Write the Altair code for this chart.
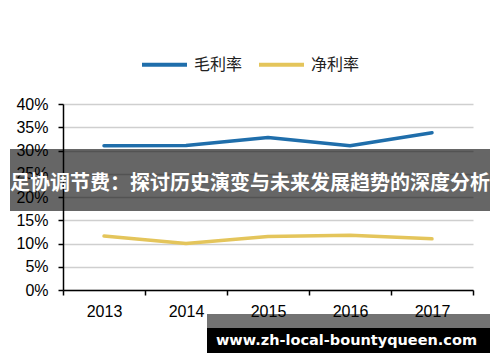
import altair as alt
import pandas as pd

years = ["2013", "2014", "2015", "2016", "2017"]
gross_margin = [0.310, 0.311, 0.328, 0.310, 0.338]
net_margin = [0.116, 0.100, 0.115, 0.118, 0.110]
series_names = ["毛利率", "净利率"]
series_colors = ["#1f6eab", "#e4c55b"]
y_ticks = [0, 0.05, 0.10, 0.15, 0.20, 0.25, 0.30, 0.35, 0.40]
banner_text = ["足协调节费：探讨历史演变与未来发展趋势的深度分析"]
footer_text = ["www.zh-local-bountyqueen.com"]

rows = []
for i, y in enumerate(years):
    rows.append({"year": y, "series": series_names[0], "value": gross_margin[i]})
    rows.append({"year": y, "series": series_names[1], "value": net_margin[i]})
df = pd.DataFrame(rows)

lines = alt.Chart(df).mark_line(strokeWidth=3.5, strokeCap="round", strokeJoin="round").encode(
    x=alt.X("year:N", sort=years, title=None,
            scale=alt.Scale(paddingInner=0, paddingOuter=0),
            axis=alt.Axis(labelAngle=0, labelFont="Liberation Sans", labelFontSize=16,
                          labelColor="black", tickColor="black", domainColor="black",
                          domainWidth=1.5, tickWidth=1.5, tickSize=5, labelPadding=8,
                          tickBand="extent", grid=False, zindex=0)),
    y=alt.Y("value:Q", title=None,
            scale=alt.Scale(domain=[0, 0.4], nice=False),
            axis=alt.Axis(values=y_ticks, format=".0%", labelFont="Liberation Sans",
                          labelFontSize=16, labelColor="black", tickColor="black",
                          domainColor="black", domainWidth=1.5, tickWidth=1.5, tickSize=5,
                          labelPadding=10, gridColor="#cfcfcf", gridWidth=1.5, zindex=0)),
    color=alt.Color("series:N", sort=series_names,
                    scale=alt.Scale(domain=series_names, range=series_colors),
                    legend=alt.Legend(title=None, orient="none", legendX=77, legendY=-64,
                                      direction="horizontal", symbolType="stroke",
                                      symbolSize=2025, symbolStrokeWidth=4,
                                      labelFont="Noto Sans CJK SC", labelFontSize=16,
                                      labelColor="#222", labelOffset=5, columnPadding=8)),
)

banner_rect = alt.Chart(pd.DataFrame({"t": banner_text})).mark_rect(color="black", opacity=0.6).encode(
    x=alt.value(-53), x2=alt.value(427), y=alt.value(45), y2=alt.value(107))
banner = alt.Chart(pd.DataFrame({"t": banner_text})).mark_text(
    color="white", font="Noto Sans CJK SC", fontSize=20, fontWeight="bold",
    align="center", baseline="middle").encode(
    x=alt.value(187), y=alt.value(80), text="t:N")

footer_gray = alt.Chart(pd.DataFrame({"t": footer_text})).mark_rect(color="black", opacity=0.55).encode(
    x=alt.value(144), x2=alt.value(427), y=alt.value(210), y2=alt.value(224))
footer_black = alt.Chart(pd.DataFrame({"t": footer_text})).mark_rect(color="black", opacity=1).encode(
    x=alt.value(144), x2=alt.value(427), y=alt.value(224), y2=alt.value(249))
footer = alt.Chart(pd.DataFrame({"t": footer_text})).mark_text(
    color="white", font="DejaVu Sans", fontSize=14.5, fontWeight="bold",
    align="center", baseline="middle").encode(
    x=alt.value(283.5), y=alt.value(237), text="t:N")

chart = alt.layer(lines, banner_rect, banner, footer_gray, footer_black, footer).properties(
    width=410, height=186,
    autosize=alt.AutoSizeParams(type="none"),
    padding={"left": 63, "top": 104, "right": 27, "bottom": 72},
    background="white",
).configure_view(stroke=None)

chart.save("out.html", embed_options={"renderer": "svg", "actions": False})
